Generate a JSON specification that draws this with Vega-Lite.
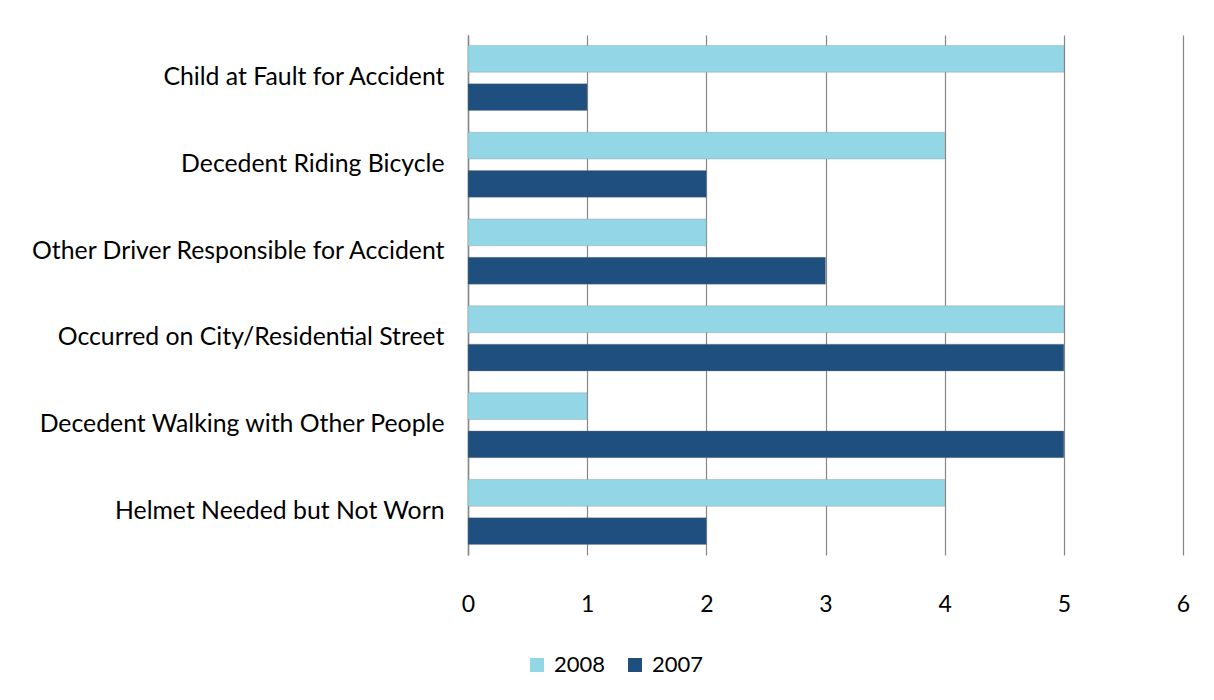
{
  "$schema": "https://vega.github.io/schema/vega-lite/v6.json",
  "autosize": "none",
  "width": 715,
  "height": 520,
  "padding": {"left": 468, "top": 35, "right": 31, "bottom": 145},
  "background": "white",
  "config": {"view": {"stroke": null}, "font": "Lato"},
  "data": {
    "values": [
      {"category": "Child at Fault for Accident", "year": "2008", "value": 5},
      {"category": "Child at Fault for Accident", "year": "2007", "value": 1},
      {"category": "Decedent Riding Bicycle", "year": "2008", "value": 4},
      {"category": "Decedent Riding Bicycle", "year": "2007", "value": 2},
      {"category": "Other Driver Responsible for Accident", "year": "2008", "value": 2},
      {"category": "Other Driver Responsible for Accident", "year": "2007", "value": 3},
      {"category": "Occurred on City/Residential Street", "year": "2008", "value": 5},
      {"category": "Occurred on City/Residential Street", "year": "2007", "value": 5},
      {"category": "Decedent Walking with Other People", "year": "2008", "value": 1},
      {"category": "Decedent Walking with Other People", "year": "2007", "value": 5},
      {"category": "Helmet Needed but Not Worn", "year": "2008", "value": 4},
      {"category": "Helmet Needed but Not Worn", "year": "2007", "value": 2}
    ]
  },
  "mark": {"type": "bar", "stroke": "#7f7f7f", "strokeWidth": 0.5, "strokeOpacity": 0.6},
  "encoding": {
    "y": {
      "field": "category",
      "type": "nominal",
      "sort": null,
      "scale": {"paddingInner": 0.25, "paddingOuter": 0.12},
      "axis": {
        "title": null,
        "domain": true,
        "domainColor": "#868686",
        "domainWidth": 1.5,
        "ticks": false,
        "labelFontSize": 24.8,
        "labelColor": "#000000",
        "labelPadding": 24,
        "labelLimit": 600
      }
    },
    "yOffset": {
      "field": "year",
      "type": "nominal",
      "sort": ["2008", "2007"],
      "scale": {"paddingInner": 0.3}
    },
    "x": {
      "field": "value",
      "type": "quantitative",
      "scale": {"domain": [0, 6], "nice": false},
      "axis": {
        "title": null,
        "values": [0, 1, 2, 3, 4, 5, 6],
        "labelFlush": false,
        "labelOverlap": false,
        "domain": false,
        "ticks": false,
        "grid": true,
        "gridColor": "#868686",
        "gridWidth": 1.2,
        "labelFontSize": 23,
        "labelColor": "#000000",
        "labelPadding": 38
      }
    },
    "color": {
      "field": "year",
      "type": "nominal",
      "sort": ["2008", "2007"],
      "scale": {"domain": ["2008", "2007"], "range": ["#93d6e6", "#1f4f7f"]},
      "legend": {
        "title": null,
        "orient": "none",
        "direction": "horizontal",
        "legendX": 58,
        "legendY": 619,
        "symbolType": "square",
        "symbolSize": 196,
        "symbolStrokeWidth": 0,
        "labelFontSize": 22,
        "labelColor": "#000000",
        "columnPadding": 18,
        "labelOffset": 6
      }
    }
  }
}
